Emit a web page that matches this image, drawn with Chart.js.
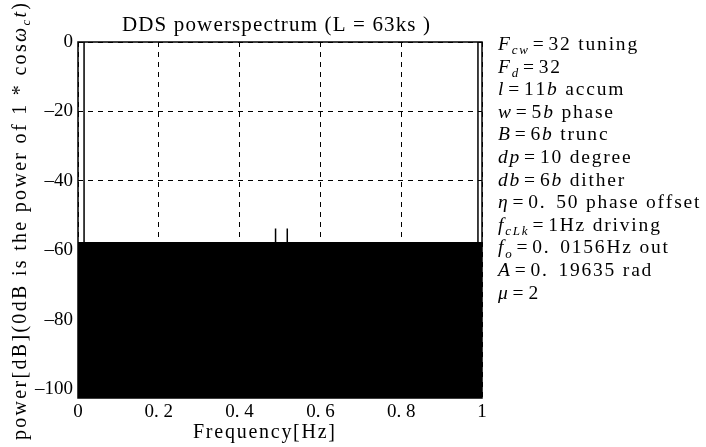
<!DOCTYPE html>
<html><head><meta charset="utf-8">
<script src="https://cdn.jsdelivr.net/npm/chart.js@4/dist/chart.umd.min.js"></script>
<style>html,body{margin:0;padding:0;background:#fff;overflow:hidden}#wrap{width:706px;height:447px;position:relative}canvas{display:block}</style>
</head><body><div id="wrap"><canvas id="c" width="706" height="447"></canvas></div>
<script>
// ---- data ----
const freqTicks = [0, 0.2, 0.4, 0.6, 0.8, 1];
const freqTickLabels = ['0', '0. 2', '0. 4', '0. 6', '0. 8', '1'];
const powerTicks = [0, -20, -40, -60, -80, -100];
const powerTickLabels = ['0', '\u201320', '\u201340', '\u201360', '\u201380', '\u2013100'];
const spikeFreqs = [0.015, 0.489, 0.518, 0.99];
const spikePowers = [0, -53.7, -53.7, 0];
const noiseFloorDb = -57.8;
const freqRange = [0, 1];
const powerRange = [-102.5, 0];
const titleSegs = [['DDS powerspectrum (L = 63ks )', 'n']];
const xTitleSegs = [['Frequency[Hz]', 'n']];
const yTitleSegs = [['power[dB](0dB is the power of 1 * cos', 'n'], ['\u03c9', 'i'], ['c', 's'], ['t', 'i'], [')', 'n']];
const noteLines = [
  [['F', 'i'], ['cw', 's'], ['=32 tuning', 'n']],
  [['F', 'i'], ['d', 's'], ['=32', 'n']],
  [['l', 'i'], ['=11', 'n'], ['b', 'i'], [' accum', 'n']],
  [['w', 'i'], ['=5', 'n'], ['b', 'i'], [' phase', 'n']],
  [['B', 'i'], ['=6', 'n'], ['b', 'i'], [' trunc', 'n']],
  [['dp', 'i'], ['=10 degree', 'n']],
  [['db', 'i'], ['=6', 'n'], ['b', 'i'], [' dither', 'n']],
  [['\u03b7', 'i'], ['=0. 50 phase offset', 'n']],
  [['f', 'i'], ['cLk', 's'], ['=1Hz driving', 'n']],
  [['f', 'i'], ['o', 's'], ['=0. 0156Hz out', 'n']],
  [['A', 'i'], ['=0. 19635 rad', 'n']],
  [['\u03bc', 'i'], ['=2', 'n']]
];

// ---- build spectrum outline from the arrays ----
const spectrum = [{x: freqRange[0], y: noiseFloorDb}];
spikeFreqs.forEach((f, i) => {
  spectrum.push({x: f, y: noiseFloorDb}, {x: f, y: spikePowers[i]}, {x: f, y: noiseFloorDb});
});
spectrum.push({x: freqRange[1], y: noiseFloorDb});

const FAM = '"Liberation Serif","Times New Roman",serif';
function fontFor(st, size) {
  if (st === 'n') return size + 'px ' + FAM;
  if (st === 'i') return 'italic ' + size + 'px ' + FAM;
  return 'italic ' + Math.round(size * 0.65) + 'px ' + FAM;
}
function layoutRich(ctx, segs, size, extras) {
  const items = [];
  for (const [t, st] of segs) {
    for (const ch of t) {
      ctx.font = fontFor(st, size);
      const w = ctx.measureText(ch).width;
      let pre = 0, post = 0;
      if (extras && st !== 's') {
        if (ch === '=') { pre = extras.eq; post = extras.eq; }
        if (ch === '.') post = extras.dot;
      }
      items.push({ch, st, w, pre, post});
    }
  }
  return items;
}
function drawItems(ctx, items, x, y, size, spacing) {
  let cx = x;
  items.forEach((it, i) => {
    cx += it.pre;
    ctx.font = fontFor(it.st, size);
    const dy = it.st === 's' ? size * 0.22 : 0;
    ctx.fillText(it.ch, cx, y + dy);
    cx += it.w + it.post + (i < items.length - 1 ? spacing : 0);
  });
}
function drawFit(ctx, segs, x, y, size, target) {
  const items = layoutRich(ctx, segs, size, null);
  const nat = items.reduce((a, it) => a + it.w, 0);
  const sp = items.length > 1 ? (target - nat) / (items.length - 1) : 0;
  drawItems(ctx, items, x, y, size, sp);
}

const decor = {
  id: 'decor',
  afterDatasetsDraw(chart) {
    const {ctx, chartArea: a} = chart;
    ctx.save();
    ctx.strokeStyle = '#000';
    ctx.lineWidth = 1.5;
    ctx.strokeRect(a.left, a.top, a.right - a.left, a.bottom - a.top);
    ctx.restore();
  },
  afterDraw(chart) {
    const ctx = chart.ctx;
    ctx.save();
    ctx.fillStyle = '#000';
    ctx.textAlign = 'left';
    ctx.textBaseline = 'alphabetic';
    drawFit(ctx, titleSegs, 122, 31, 21, 308);
    drawFit(ctx, xTitleSegs, 193, 438, 20, 142);
    ctx.save();
    ctx.translate(26, 440);
    ctx.rotate(-Math.PI / 2);
    drawFit(ctx, yTitleSegs, 0, 0, 20, 437);
    ctx.restore();
    noteLines.forEach((segs, i) => {
      const items = layoutRich(ctx, segs, 19.5, {eq: 3, dot: 3});
      drawItems(ctx, items, 498, 50 + i * 22.6, 19.5, 1.8);
    });
    ctx.restore();
  }
};

new Chart(document.getElementById('c'), {
  type: 'line',
  data: {
    datasets: [{
      data: spectrum,
      borderColor: '#000',
      backgroundColor: '#000',
      borderWidth: 1.5,
      pointRadius: 0,
      tension: 0,
      fill: 'start'
    }]
  },
  options: {
    responsive: false,
    animation: false,
    devicePixelRatio: 1,
    layout: {padding: {top: 42, right: 224, left: 0, bottom: 0}},
    plugins: {legend: {display: false}, title: {display: false}, tooltip: {enabled: false}},
    scales: {
      x: {
        type: 'linear',
        min: freqRange[0], max: freqRange[1],
        afterBuildTicks: s => { s.ticks = freqTicks.map(v => ({value: v})); },
        afterFit: s => { s.height = 49; },
        ticks: {
          callback: v => freqTickLabels[freqTicks.indexOf(v)],
          font: {family: 'Liberation Serif', size: 19},
          color: '#000', maxRotation: 0, autoSkip: false, padding: 3
        },
        grid: {color: '#000', lineWidth: 1, drawTicks: false},
        border: {display: false, dash: [5, 5]}
      },
      y: {
        type: 'linear',
        min: powerRange[0], max: powerRange[1],
        afterBuildTicks: s => { s.ticks = powerTicks.map(v => ({value: v})); },
        afterFit: s => { s.width = 78; },
        ticks: {
          callback: v => powerTickLabels[powerTicks.indexOf(v)],
          font: {family: 'Liberation Serif', size: 19},
          color: '#000', autoSkip: false, padding: 5
        },
        grid: {color: '#000', lineWidth: 1, drawTicks: false},
        border: {display: false, dash: [5, 5]}
      }
    }
  },
  plugins: [decor]
});
</script>
</body></html>
